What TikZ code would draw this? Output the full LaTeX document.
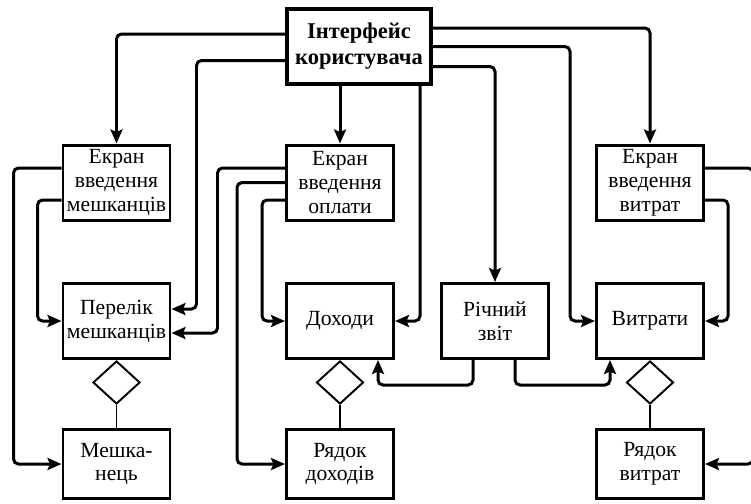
\documentclass[tikz,border=0pt]{standalone}
\usepackage{fontspec}
\setmainfont{Liberation Serif}
\usetikzlibrary{arrows.meta,shapes.geometric}

\tikzstyle{box} = [draw, line width=1.7pt, minimum width=2.14cm, minimum height=1.5cm,
    align=center, inner sep=1pt, font=\fontsize{12.3}{13.6}\selectfont]
\tikzstyle{link} = [draw, diamond, line width=1.1pt, minimum width=0.94cm,
    minimum height=0.86cm, inner sep=0pt, anchor=north]
\tikzstyle{conn} = [->, line width=1.7pt, rounded corners=0.1cm]
\def\lanedist{0.5}

\begin{document}
\begin{tikzpicture}[>={Stealth[length=0.28cm,width=0.24cm,inset=0.05cm]}]
                \useasboundingbox (0,0) rectangle (15.02,-10.06);
                % draw rectangle nodes
                \node[box,
                    line width=2.5pt,
                    minimum width=2.87cm,
                    minimum height=1.49cm,
                    font=\fontsize{12.8}{14.7}\selectfont\bfseries] (ui) at (7.18,-0.93) {Інтерфейс\\користувача};
                \node[box] (scrRes) at (2.33,-3.65) {Екран\\введення\\мешканців};
                \node[box] (scrPay) at (6.80,-3.65) {Екран\\введення\\оплати};
                \node[box] (scrExp) at (13.0,-3.65) {Екран\\введення\\витрат};
                \node[box] (resList) at (2.33,-6.42) {Перелік\\мешканців};
                \node[box] (income) at (6.80,-6.42) {Доходи};
                \node[box] (report) at (9.90,-6.42) {Річний\\звіт};
                \node[box] (expenses) at (13.0,-6.42) {Витрати};
                \node[box, minimum height=1.38cm] (resident) at (2.33,-9.28) {Мешка-\\нець};
                \node[box, minimum height=1.38cm] (incRow) at (6.80,-9.28) {Рядок\\доходів};
                \node[box, minimum height=1.38cm] (expRow) at (13.0,-9.28) {Рядок\\витрат};
                % draw diamonds
                \node[link] (resLink) at (resList.south) {};
                \node[link] (incLink) at (income.south) {};
                \node[link] (expLink) at (expenses.south) {};
                \draw[line width=1.1pt] (resLink.south) -- (resident.north);
                \draw[line width=1.1pt] (incLink.south) -- (incRow.north);
                \draw[line width=1.1pt] (expLink.south) -- (expRow.north);
                % Draw edges from the interface
                \draw[conn] ([yshift=0.25cm]ui.west) -| (scrRes.north);
                \draw[conn] ([yshift=-0.28cm]ui.west) -| ([xshift=\lanedist cm,yshift=0.24cm]resList.east) -- ([yshift=0.24cm]resList.east);
                \draw[conn] (ui.south -| scrPay.north) -- (scrPay.north);
                \draw[conn] ([xshift=1.22cm]ui.south) |- (income.east);
                \draw[conn] ([yshift=0.37cm]ui.east) -| (scrExp.north);
                \draw[conn] (ui.east) -| ([xshift=-\lanedist cm]expenses.west) -- (expenses.west);
                \draw[conn] ([yshift=-0.40cm]ui.east) -| (report.north);
                % Draw edges from the screens
                \draw[conn] ([yshift=0.29cm]scrRes.west) -| ([xshift=-0.96cm]resident.west) -- (resident.west);
                \draw[conn] ([yshift=-0.35cm]scrRes.west) -| ([xshift=-0.48cm]resList.west) -- (resList.west);
                \draw[conn] ([yshift=0.29cm]scrPay.west) -| ([xshift=0.92cm,yshift=-0.24cm]resList.east) -- ([yshift=-0.24cm]resList.east);
                \draw[conn] (scrPay.west) -| ([xshift=-0.96cm]incRow.west) -- (incRow.west);
                \draw[conn] ([yshift=-0.35cm]scrPay.west) -| ([xshift=-0.46cm]income.west) -- (income.west);
                \draw[conn] ([yshift=0.29cm]scrExp.east) -| ([xshift=0.96cm]expRow.east) -- (expRow.east);
                \draw[conn] ([yshift=-0.35cm]scrExp.east) -| ([xshift=0.46cm]expenses.east) -- (expenses.east);
                % Draw edges from the report
                \draw[conn] ([xshift=-0.44cm]report.south) -- ++(0,-\lanedist) -| ([xshift=0.76cm]income.south);
                \draw[conn] ([xshift=0.4cm]report.south) -- ++(0,-\lanedist) -| ([xshift=-0.8cm]expenses.south);
        \end{tikzpicture}
\end{document}
